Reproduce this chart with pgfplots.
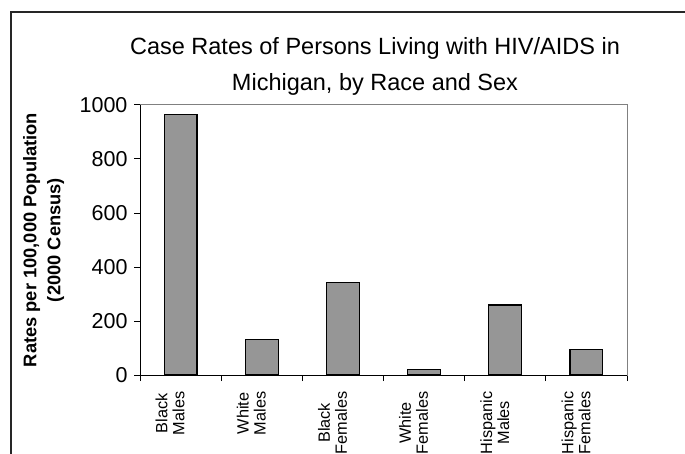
\documentclass[border=0pt]{standalone}
\usepackage{fontspec}
\setmainfont{Liberation Sans}
\usepackage{pgfplots}
\pgfplotsset{compat=1.18}
\definecolor{barfill}{RGB}{150,150,150}
\definecolor{framegray}{RGB}{128,128,128}
\newcommand{\xl}[2]{\mbox{\fontsize{16.3}{17}\selectfont\begin{tabular}{@{}c@{}}#1\\#2\end{tabular}}}
\begin{document}
\begin{tikzpicture}[x=1pt,y=1pt]
\useasboundingbox (0,0) rectangle (685,-454);
\draw[line width=1.8pt, black!85] (685,-12) -- (11,-12) -- (11,-454);
\node[anchor=base, font=\fontsize{23.5}{36}\selectfont, inner sep=0pt] at (375,-55) {Case Rates of Persons Living with HIV/AIDS in};
\node[anchor=base, font=\fontsize{23.5}{36}\selectfont, inner sep=0pt] at (375,-91) {Michigan, by Race and Sex};
\begin{axis}[
  at={(140pt,-375pt)}, anchor=south west,
  scale only axis, width=487pt, height=270pt,
  ybar, bar width=0.405,
  xmin=-0.5, xmax=5.5, ymin=0, ymax=1000,
  clip=false,
  xtick={0,1,2,3,4,5},
  xticklabels={{\xl{Black}{Males}},{\xl{White}{Males}},{\xl{Black}{Females}},{\xl{White}{Females}},{\xl{Hispanic}{Males}},{\xl{Hispanic}{Females}}},
  minor xtick={-0.5,0.5,1.5,2.5,3.5,4.5,5.5},
  ytick={0,200,400,600,800,1000},
  xtick pos=bottom, ytick pos=left,
  tick align=outside,
  major tick length=6pt, minor tick length=6pt,
  major x tick style={draw=none},
  minor x tick style={black, line width=1pt},
  major y tick style={black, line width=1pt},
  axis line style={draw=framegray, line width=1pt},
  /pgf/number format/assume math mode=true,
  /pgf/number format/1000 sep={},
  yticklabel style={font=\fontsize{21.5}{24}\selectfont, xshift=-3pt},
  xticklabel style={xshift=-8pt, yshift=-7pt, rotate=90, anchor=east, font=\fontsize{16.3}{17}\selectfont},
  ylabel={Rates per 100,000 Population\\(2000 Census)},
  every axis y label/.style={at={(axis description cs:-0.198,0.5)}, rotate=90, anchor=center, align=center, font=\bfseries\fontsize{18.3}{24}\selectfont},
  after end axis/.code={
    \draw[black, line width=1pt] (rel axis cs:0,1) -- (rel axis cs:0,0) -- (rel axis cs:1,0);
  },
]
\addplot[fill=barfill, draw=black, line width=1.2pt] coordinates {(0,964) (1,131) (2,344) (3,21) (4,259) (5,94)};
\end{axis}
\end{tikzpicture}
\end{document}
